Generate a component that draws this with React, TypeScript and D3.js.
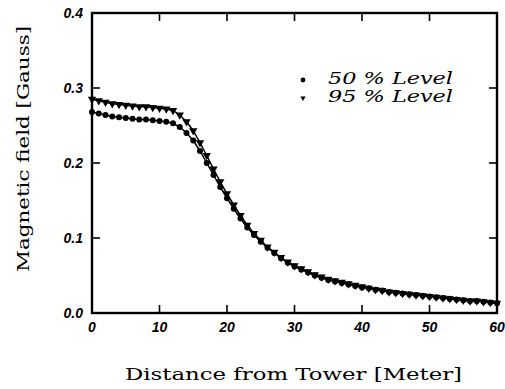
import React from "react";
import * as d3 from "d3";

const distances: number[] = d3.range(0, 61);
const level50: number[] = [
  0.268, 0.266, 0.264, 0.262, 0.261, 0.26, 0.259, 0.258, 0.258, 0.257,
  0.256, 0.255, 0.253, 0.248, 0.24, 0.23, 0.216, 0.2, 0.184, 0.168,
  0.153, 0.139, 0.126, 0.114, 0.104, 0.095, 0.087, 0.08, 0.073, 0.067,
  0.062, 0.058, 0.054, 0.05, 0.047, 0.044, 0.042, 0.04, 0.038, 0.036,
  0.034, 0.033, 0.031, 0.03, 0.028, 0.027, 0.026, 0.025, 0.024, 0.023,
  0.022, 0.021, 0.02, 0.019, 0.018, 0.017, 0.016, 0.016, 0.015, 0.014,
  0.013,
];
const level95: number[] = [
  0.285, 0.283, 0.281, 0.279, 0.278, 0.277, 0.276, 0.275, 0.275, 0.274,
  0.273, 0.272, 0.27, 0.264, 0.255, 0.243, 0.227, 0.21, 0.192, 0.175,
  0.159, 0.144, 0.13, 0.117, 0.106, 0.097, 0.088, 0.081, 0.074, 0.068,
  0.063, 0.059, 0.055, 0.051, 0.048, 0.045, 0.043, 0.041, 0.039, 0.037,
  0.035, 0.033, 0.031, 0.03, 0.028, 0.027, 0.026, 0.025, 0.024, 0.023,
  0.022, 0.021, 0.02, 0.019, 0.018, 0.017, 0.016, 0.016, 0.015, 0.014,
  0.013,
];
const xTicks: number[] = [0, 10, 20, 30, 40, 50, 60];
const yTicks: number[] = [0.0, 0.1, 0.2, 0.3, 0.4];
const legendLabels: string[] = ["50 % Level", "95 % Level"];

export default function App() {
  const W = 505, H = 389;
  const x = d3.scaleLinear().domain([0, 60]).range([92, 497]);
  const y = d3.scaleLinear().domain([0, 0.4]).range([313, 13]);
  const line = d3.line<number>().x((_, i) => x(distances[i])).y((d) => y(d));
  const tri = d3.symbol().type(d3.symbolTriangle).size(30)();
  const tickLen = 8;
  return (
    <svg width={W} height={H} style={{ position: "absolute", left: 0, top: 0, background: "#fff" }}>
      <rect x={0} y={0} width={W} height={H} fill="#fff" />
      <rect x={x(0)} y={y(0.4)} width={x(60) - x(0)} height={y(0) - y(0.4)} fill="none" stroke="#000" strokeWidth={2.4} />
      {xTicks.slice(1, -1).map((t) => (
        <g key={"xt" + t}>
          <line x1={x(t)} x2={x(t)} y1={y(0)} y2={y(0) - tickLen} stroke="#000" strokeWidth={1.6} />
          <line x1={x(t)} x2={x(t)} y1={y(0.4)} y2={y(0.4) + tickLen} stroke="#000" strokeWidth={1.6} />
        </g>
      ))}
      {yTicks.slice(1, -1).map((t) => (
        <g key={"yt" + t}>
          <line x1={x(0)} x2={x(0) + tickLen} y1={y(t)} y2={y(t)} stroke="#000" strokeWidth={1.6} />
          <line x1={x(60)} x2={x(60) - tickLen} y1={y(t)} y2={y(t)} stroke="#000" strokeWidth={1.6} />
        </g>
      ))}
      {xTicks.map((t) => (
        <text key={"xl" + t} x={x(t)} y={332} textAnchor="middle" fontFamily="Liberation Sans" fontWeight="bold" fontStyle="italic" fontSize={14}>
          {String(t)}
        </text>
      ))}
      {yTicks.map((t) => (
        <text key={"yl" + t} x={83} y={y(t) + 5} textAnchor="end" fontFamily="Liberation Sans" fontWeight="bold" fontStyle="italic" fontSize={14}>
          {d3.format(".1f")(t)}
        </text>
      ))}
      <path d={line(level95) || ""} fill="none" stroke="#000" strokeWidth={1.5} />
      <path d={line(level50) || ""} fill="none" stroke="#000" strokeWidth={1.5} />
      {level50.map((v, i) => (
        <circle key={"c" + i} cx={x(distances[i])} cy={y(v)} r={3} fill="#000" />
      ))}
      {level95.map((v, i) => (
        <path key={"t" + i} d={tri || ""} transform={`translate(${x(distances[i])},${y(v)}) rotate(180)`} fill="#000" />
      ))}
      <circle cx={303} cy={80} r={2.4} fill="#000" />
      <path d={d3.symbol().type(d3.symbolTriangle).size(12)() || ""} transform="translate(303,98) rotate(180)" fill="#000" />
      {legendLabels.map((l, i) => (
        <text key={l} x={328} y={84 + i * 18} fontFamily="DejaVu Serif" fontStyle="italic" fontSize={16} textLength={125} lengthAdjust="spacingAndGlyphs">
          {l}
        </text>
      ))}
      <text x={(125 + 462) / 2} y={380} textAnchor="middle" fontFamily="DejaVu Serif" fontSize={17} textLength={337} lengthAdjust="spacingAndGlyphs">
        Distance from Tower [Meter]
      </text>
      <text transform="translate(29,149) rotate(-90)" textAnchor="middle" fontFamily="DejaVu Serif" fontSize={17} textLength={246} lengthAdjust="spacingAndGlyphs">
        Magnetic field [Gauss]
      </text>
    </svg>
  );
}
